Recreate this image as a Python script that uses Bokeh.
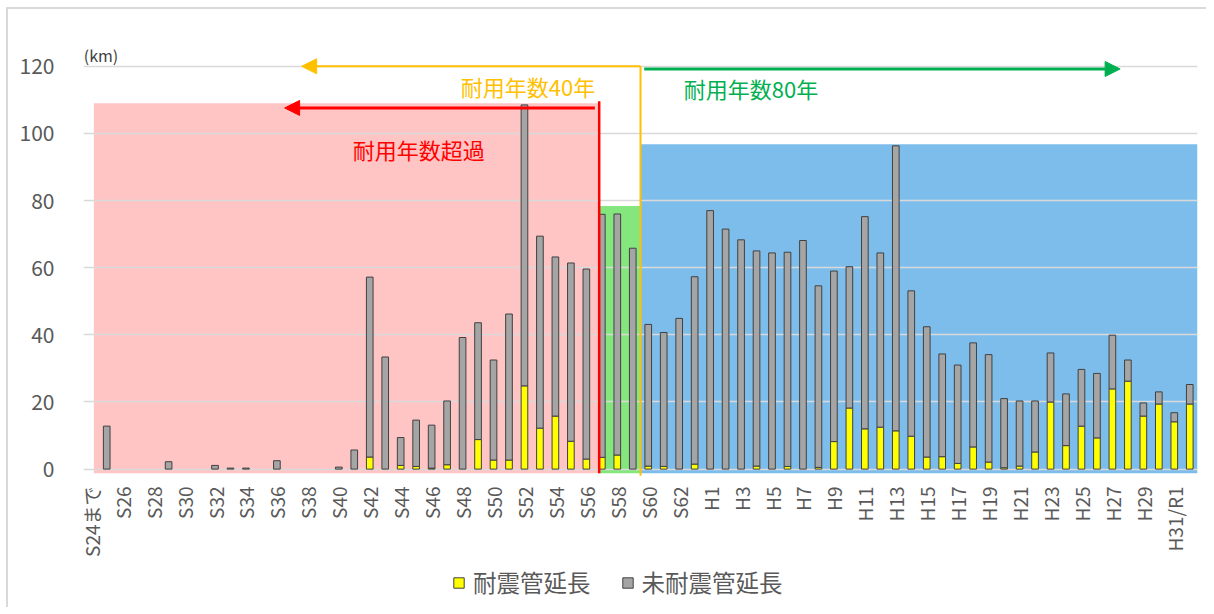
import math
from bokeh.plotting import figure
from bokeh.layouts import column
from bokeh.models import (ColumnDataSource, Label, Arrow, NormalHead, Legend,
                          LegendItem, FixedTicker, Range1d, CDSView, IndexFilter)
from bokeh.transform import stack
from bokeh.embed import file_html
from bokeh.resources import INLINE

FONT = "Noto Sans CJK JP"

# ---- data -------------------------------------------------------------
categories = (["S24まで"] + [f"S{n}" for n in range(25, 64)]
              + [f"H{n}" for n in range(1, 31)] + ["H31/R1", "R2"])

# 耐震管延長 (km)
seismic = [0, 0, 0, 0, 0, 0, 0, 0, 0, 0,
           0, 0, 0, 0, 0, 0, 0, 0, 3.6, 0,
           1.1, 0.8, 0.3, 1.3, 0, 8.8, 2.7, 2.7, 24.8, 12.2,
           15.8, 8.3, 3.0, 3.5, 4.2, 0, 0.9, 0.8, 0, 1.5,
           0, 0, 0, 0.9, 0, 0.8, 0, 0.5, 8.2, 18.2,
           12.0, 12.5, 11.4, 9.8, 3.6, 3.7, 1.7, 6.6, 2.1, 0.4,
           0.9, 5.1, 20.0, 7.0, 12.8, 9.3, 23.9, 26.2, 15.8, 19.4,
           14.1, 19.4]

# 未耐震管延長 (km)
non_seismic = [0, 12.8, 0, 0, 0, 2.2, 0, 0, 1.1, 0.3,
               0.3, 0, 2.5, 0, 0, 0, 0.6, 5.7, 53.6, 33.4,
               8.3, 13.8, 12.8, 19.0, 39.2, 34.8, 29.8, 43.5, 83.7, 57.2,
               47.4, 53.1, 56.6, 72.4, 71.8, 65.8, 42.2, 39.9, 44.9, 55.8,
               77.0, 71.5, 68.3, 64.1, 64.4, 63.8, 68.1, 54.1, 50.8, 42.1,
               63.2, 51.9, 84.9, 43.3, 38.8, 30.6, 29.3, 31.0, 32.0, 20.6,
               19.4, 15.2, 14.6, 15.4, 16.9, 19.2, 16.0, 6.3, 3.9, 3.6,
               2.7, 5.8]

series_names = ["耐震管延長", "未耐震管延長"]
series_colors = ["#FFFF00", "#A5A5A5"]

y_ticks = [0, 20, 40, 60, 80, 100, 120]

# background zones (x in category-index units)
zone_left = [0.17, 32.83, 35.5]
zone_right = [32.83, 35.5, 71.5]
zone_top = [109.0, 78.4, 96.8]
zone_bottom = [-1.2, -1.2, -1.2]
zone_colors = ["#FFC5C5", "#85E67E", "#7CBDEB"]

# ---- main figure ------------------------------------------------------
n_cat = len(categories)
p = figure(x_range=Range1d(-0.5, n_cat - 0.5), y_range=Range1d(-2.5, 125),
           width=1198, height=552, output_backend="svg",
           toolbar_location=None,
           min_border_left=75, min_border_right=9,
           min_border_top=40, min_border_bottom=84)
p.outline_line_color = None
p.background_fill_color = "white"
p.border_fill_color = "white"

p.quad(left=zone_left, right=zone_right, top=zone_top, bottom=zone_bottom,
       fill_color=zone_colors, line_color=None, level="image")

src = ColumnDataSource(dict(pos=list(range(n_cat)), cat=categories,
                            s=seismic, n=non_seismic))
# stacked bars (zero-length segments are not drawn)
yellow_view = CDSView(filter=IndexFilter([i for i, v in enumerate(seismic) if v > 0]))
grey_view = CDSView(filter=IndexFilter([i for i, v in enumerate(non_seismic) if v > 0]))
r_yellow = p.vbar(x="pos", bottom=0, top=stack("s"), width=0.43, source=src,
                  view=yellow_view, fill_color=series_colors[0],
                  line_color="#404040", line_width=1)
r_grey = p.vbar(x="pos", bottom=stack("s"), top=stack("s", "n"), width=0.43,
                source=src, view=grey_view, fill_color=series_colors[1],
                line_color="#404040", line_width=1)

# grid / axes
p.xgrid.visible = False
p.ygrid.ticker = FixedTicker(ticks=y_ticks)
p.ygrid.grid_line_color = "#D9D9D9"
p.ygrid.grid_line_width = 1.5

p.yaxis.ticker = FixedTicker(ticks=y_ticks)
p.yaxis.axis_line_color = None
p.yaxis.major_tick_line_color = None
p.yaxis.minor_tick_line_color = None
p.yaxis.major_tick_in = 0
p.yaxis.major_tick_out = 0
p.yaxis.major_label_standoff = 29
p.yaxis.major_label_text_font = FONT
p.yaxis.major_label_text_font_size = "21px"
p.yaxis.major_label_text_color = "#595959"

# category labels: every second category is labelled
label_idx = list(range(0, n_cat, 2))
xaxis = p.xaxis[0]
xaxis.ticker = FixedTicker(ticks=label_idx)
xaxis.major_label_overrides = {i: categories[i] for i in label_idx}
xaxis.axis_line_color = None
xaxis.major_tick_line_color = None
xaxis.minor_tick_line_color = None
xaxis.major_tick_in = 0
xaxis.major_tick_out = 0
xaxis.major_label_standoff = 9
xaxis.major_label_orientation = math.pi / 2
xaxis.major_label_text_font = FONT
xaxis.major_label_text_font_size = "19px"
xaxis.major_label_text_color = "#595959"

# vertical boundary lines
p.segment(x0=[32.83], y0=[109.6], x1=[32.83], y1=[-1.2], line_color="#FF0000", line_width=2.5)
p.segment(x0=[35.5], y0=[120], x1=[35.5], y1=[-2.0], line_color="#FFC000", line_width=2)

# arrows
p.add_layout(Arrow(end=NormalHead(size=15, fill_color="#FFC000", line_color="#FFC000"),
                   x_start=35.5, y_start=120, x_end=13.6, y_end=120,
                   line_color="#FFC000", line_width=2))
p.add_layout(Arrow(end=NormalHead(size=15, fill_color="#00B050", line_color="#00B050"),
                   x_start=35.74, y_start=119.2, x_end=66.5, y_end=119.2,
                   line_color="#00B050", line_width=3))
p.add_layout(Arrow(end=NormalHead(size=15, fill_color="#FF0000", line_color="#FF0000"),
                   x_start=32.55, y_start=107.6, x_end=12.5, y_end=107.6,
                   line_color="#FF0000", line_width=3))

# texts
def add_label(x, y, text, color, size="22px"):
    p.add_layout(Label(x=x, y=y, text=text, text_color=color, text_font=FONT,
                       text_font_size=size, text_baseline="middle"))

add_label(23.89, 114.0, "耐用年数40年", "#FFC000")
add_label(38.3, 113.4, "耐用年数80年", "#00B050")
add_label(16.9, 95.5, "耐用年数超過", "#FF0000")
add_label(-0.48, 123.3, "(km)", "#404040", "16px")

# ---- legend strip -----------------------------------------------------
q = figure(width=1198, height=46, x_range=Range1d(0, 1198), y_range=Range1d(0, 46),
           x_axis_location=None, y_axis_location=None, toolbar_location=None,
           output_backend="svg", min_border=0)
q.outline_line_color = None
q.grid.visible = False
# swatch renderers placed outside the visible range (only their legend icons show)
swatches = [q.vbar(x=[-1000], bottom=[-200], top=[-199], width=1, fill_color=c,
                   line_color="#404040", line_width=1)
            for c in series_colors]
legend = Legend(items=[LegendItem(label=name, renderers=[r])
                       for name, r in zip(series_names, swatches)],
                location=(369, 8), orientation="horizontal",
                glyph_width=13, glyph_height=13, label_standoff=8, spacing=30,
                padding=0, margin=0, border_line_color=None,
                background_fill_alpha=0, label_text_font=FONT,
                label_text_font_size="23.5px", label_text_color="#595959")
q.add_layout(legend, "center")

layout = column(p, q, spacing=0)
layout.styles = {"margin-left": "6px", "margin-top": "7px",
                 "border-left": "2px solid #D9D9D9", "border-top": "2px solid #D9D9D9"}

open("out.html", "w").write(file_html(layout, INLINE))
